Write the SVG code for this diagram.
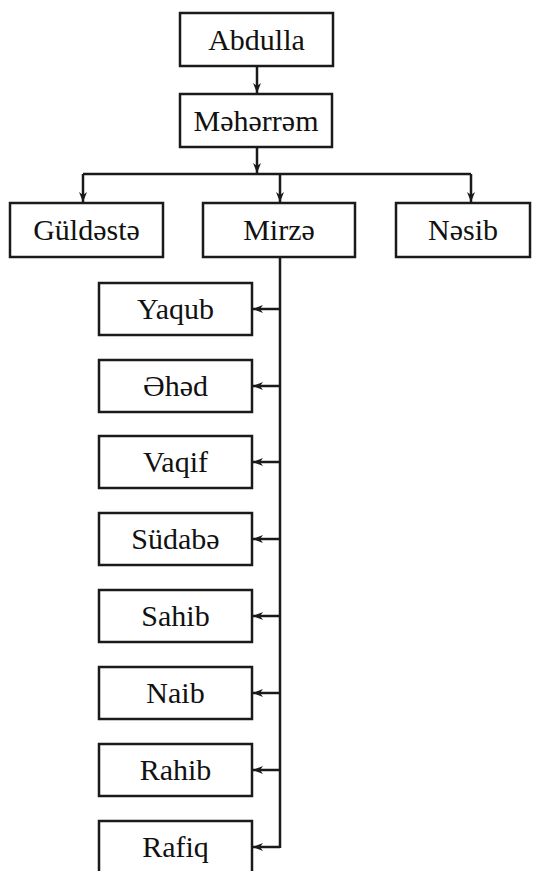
<svg xmlns="http://www.w3.org/2000/svg" width="544" height="871" viewBox="0 0 544 871">
<style>
.box{fill:#fff;stroke:#1a1a1a;stroke-width:2.5}
.lbl{font-size:30px;fill:#111;text-anchor:middle}
.ln{fill:none;stroke:#1a1a1a;stroke-width:2.5}
</style>
<defs>
<marker id="ah" viewBox="0 0 10 8" markerWidth="10" markerHeight="8" refX="10" refY="4" orient="auto" markerUnits="userSpaceOnUse">
<path d="M0,0 L10,4 L0,8 L3,4 z" fill="#1a1a1a"/>
</marker>
</defs>
<rect width="544" height="871" fill="#fff"/>
<g id="connectors">
<line class="ln" x1="257" y1="66" x2="257" y2="93" marker-end="url(#ah)"/>
<line class="ln" x1="257" y1="147" x2="257" y2="173" marker-end="url(#ah)"/>
<path class="ln" d="M83,174 H471"/>
<line class="ln" x1="83" y1="174" x2="83" y2="202" marker-end="url(#ah)"/>
<line class="ln" x1="280" y1="174" x2="280" y2="202" marker-end="url(#ah)"/>
<line class="ln" x1="471" y1="174" x2="471" y2="202" marker-end="url(#ah)"/>
<path class="ln" d="M280,257 V848"/>
<line class="ln" x1="280" y1="309" x2="253" y2="309" marker-end="url(#ah)"/>
<line class="ln" x1="280" y1="386" x2="253" y2="386" marker-end="url(#ah)"/>
<line class="ln" x1="280" y1="462" x2="253" y2="462" marker-end="url(#ah)"/>
<line class="ln" x1="280" y1="539" x2="253" y2="539" marker-end="url(#ah)"/>
<line class="ln" x1="280" y1="616" x2="253" y2="616" marker-end="url(#ah)"/>
<line class="ln" x1="280" y1="693" x2="253" y2="693" marker-end="url(#ah)"/>
<line class="ln" x1="280" y1="770" x2="253" y2="770" marker-end="url(#ah)"/>
<line class="ln" x1="280" y1="847" x2="253" y2="847" marker-end="url(#ah)"/>
</g>
<g font-family="'Liberation Serif', 'Times New Roman', 'DejaVu Serif', serif">
<g id="abdulla"><rect class="box" x="180" y="13" width="153" height="53"/><text class="lbl" x="256.5" y="50">Abdulla</text></g>
<g id="meherrem"><rect class="box" x="180" y="94" width="152" height="53"/><text class="lbl" x="256" y="131">Məhərrəm</text></g>
<g id="guldeste"><rect class="box" x="10" y="203" width="153" height="54"/><text class="lbl" x="86.5" y="240">Güldəstə</text></g>
<g id="mirze"><rect class="box" x="203" y="203" width="152" height="54"/><text class="lbl" x="279" y="240">Mirzə</text></g>
<g id="nesib"><rect class="box" x="396" y="203" width="134" height="54"/><text class="lbl" x="463" y="240">Nəsib</text></g>
<g id="yaqub"><rect class="box" x="99" y="283" width="153" height="52"/><text class="lbl" x="175.5" y="319">Yaqub</text></g>
<g id="ehed"><rect class="box" x="99" y="360" width="153" height="52"/><text class="lbl" x="175.5" y="396">Əhəd</text></g>
<g id="vaqif"><rect class="box" x="99" y="436" width="153" height="52"/><text class="lbl" x="175.5" y="472">Vaqif</text></g>
<g id="sudabe"><rect class="box" x="99" y="513" width="153" height="52"/><text class="lbl" x="175.5" y="549">Südabə</text></g>
<g id="sahib"><rect class="box" x="99" y="590" width="153" height="52"/><text class="lbl" x="175.5" y="626">Sahib</text></g>
<g id="naib"><rect class="box" x="99" y="667" width="153" height="52"/><text class="lbl" x="175.5" y="703">Naib</text></g>
<g id="rahib"><rect class="box" x="99" y="744" width="153" height="52"/><text class="lbl" x="175.5" y="780">Rahib</text></g>
<g id="rafiq"><rect class="box" x="99" y="821" width="153" height="52"/><text class="lbl" x="175.5" y="857">Rafiq</text></g>
</g>
</svg>
